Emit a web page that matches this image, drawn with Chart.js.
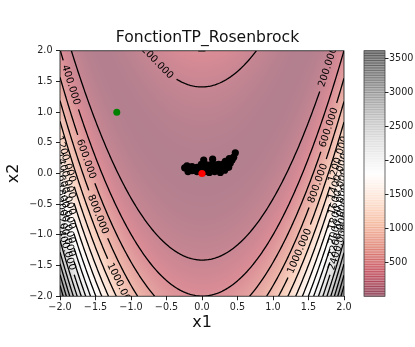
<!DOCTYPE html>
<html>
<head>
<meta charset="utf-8">
<title>FonctionTP_Rosenbrock</title>
<script src="https://cdn.jsdelivr.net/npm/chart.js@4.4.1/dist/chart.umd.min.js"></script>
<style>
  html, body { margin: 0; padding: 0; background: #fff; }
</style>
</head>
<body>
<canvas id="chart" width="415" height="347"></canvas>
<script>
// Fonction de Rosenbrock : fond coloré, isolignes annotées et essaim de points

const fontFamily = 'DejaVu Sans';

const axisMin = -2;
const axisMax = 2;
const axisStep = 0.5;
const contourLevels = [200, 400, 600, 800, 1000, 1200, 1400, 1600, 1800, 2000,
                       2200, 2400, 2600, 2800, 3000, 3200, 3400, 3600];
const colorbarTicks = [500, 1000, 1500, 2000, 2500, 3000, 3500];
const colorMin = 0;
const colorMax = 3609;
// palette RdGy (rouge -> blanc -> gris)
const rdgy = ['#67001f', '#b2182b', '#d6604d', '#f4a582', '#fddbc7', '#ffffff',
              '#e0e0e0', '#bababa', '#878787', '#4d4d4d', '#1a1a1a'];
const fillAlpha = 0.5;

// point de départ (vert) et meilleur point (rouge)
const startX = [-1.2];
const startY = [1.0];
const bestX = [0.0];
const bestY = [0.0];

// essaim final (noir)
const swarmX = [-0.244, -0.211, -0.178, -0.141, -0.103, -0.070, -0.038, 0.000, 0.038, 0.070,
                0.103, 0.141, 0.178, 0.211, 0.244, 0.282, 0.319, 0.352, 0.376, 0.399,
                0.423, 0.024, 0.150, 0.469, -0.141, 0.047, 0.117, 0.235, 0.305, 0.446,
                -0.197, -0.009, 0.188, 0.329, -0.070, 0.094, 0.258, 0.385];
const swarmY = [0.092, 0.125, 0.064, 0.111, 0.054, 0.101, 0.045, 0.078, 0.031, 0.092,
                0.017, 0.064, 0.031, 0.101, 0.045, 0.092, 0.054, 0.139, 0.101, 0.172,
                0.219, 0.219, 0.233, 0.337, 0.045, 0.148, 0.139, 0.148, 0.158, 0.266,
                0.031, 0.148, 0.139, 0.196, 0.031, 0.078, 0.017, 0.243];

function rosenbrock(x, y) {
    return (1 - x) ** 2 + 100 * (y - x * x) ** 2;
}

const rdgyRgb = rdgy.map(h => [1, 3, 5].map(k => parseInt(h.slice(k, k + 2), 16)));

function cmap(t) {
    t = Math.min(1, Math.max(0, t));
    const p = t * (rdgyRgb.length - 1);
    const i = Math.min(Math.floor(p), rdgyRgb.length - 2);
    const f = p - i;
    return [0, 1, 2].map(k => rdgyRgb[i][k] + f * (rdgyRgb[i + 1][k] - rdgyRgb[i][k]));
}

// couleur avec transparence posée sur fond blanc
function onWhite(rgb, a) {
    return rgb.map(c => Math.round(255 + a * (c - 255)));
}

function tickFmt(v) {
    return Number(v).toFixed(1).replace('-', '\u2212');
}

// ===== GRILLE + MARCHING SQUARES =====
const gridN = 240;
const grid = (() => {
    const W = gridN + 1;
    const xs = [], ys = [];
    for (let i = 0; i < W; i++) {
        xs.push(axisMin + (axisMax - axisMin) * i / gridN);
        ys.push(axisMin + (axisMax - axisMin) * i / gridN);
    }
    const v = new Float64Array(W * W);
    for (let j = 0; j < W; j++)
        for (let i = 0; i < W; i++) v[j * W + i] = rosenbrock(xs[i], ys[j]);
    return { W, xs, ys, v };
})();

function contourPaths(level) {
    const { W, xs, ys, v } = grid;
    const at = (i, j) => v[j * W + i];
    const edge = (i0, j0, i1, j1) => {
        const a = at(i0, j0), b = at(i1, j1);
        const t = (level - a) / (b - a);
        return [xs[i0] + t * (xs[i1] - xs[i0]), ys[j0] + t * (ys[j1] - ys[j0])];
    };
    const segs = [];
    for (let j = 0; j < gridN; j++) {
        for (let i = 0; i < gridN; i++) {
            const a = at(i, j) >= level, b = at(i + 1, j) >= level;
            const c = at(i + 1, j + 1) >= level, d = at(i, j + 1) >= level;
            const cross = [];
            if (a !== b) cross.push(['h' + i + '_' + j, edge(i, j, i + 1, j)]);
            if (b !== c) cross.push(['v' + (i + 1) + '_' + j, edge(i + 1, j, i + 1, j + 1)]);
            if (c !== d) cross.push(['h' + i + '_' + (j + 1), edge(i, j + 1, i + 1, j + 1)]);
            if (d !== a) cross.push(['v' + i + '_' + j, edge(i, j, i, j + 1)]);
            if (cross.length === 2) segs.push(cross);
            else if (cross.length === 4) {
                segs.push([cross[0], cross[3]]);
                segs.push([cross[1], cross[2]]);
            }
        }
    }
    const byKey = new Map();
    segs.forEach((s, idx) => s.forEach(e => {
        if (!byKey.has(e[0])) byKey.set(e[0], []);
        byKey.get(e[0]).push(idx);
    }));
    const used = new Uint8Array(segs.length);
    const walk = (idx, key) => {
        const first = segs[idx][0][0] === key ? segs[idx][0] : segs[idx][1];
        const pts = [first[1]];
        while (idx !== -1 && !used[idx]) {
            used[idx] = 1;
            const s = segs[idx];
            const other = s[0][0] === key ? s[1] : s[0];
            pts.push(other[1]);
            key = other[0];
            const nb = byKey.get(key).find(k => !used[k]);
            idx = nb === undefined ? -1 : nb;
        }
        return pts.reverse();
    };
    const paths = [];
    for (const [key, list] of byKey)
        if (list.length === 1 && !used[list[0]]) paths.push(walk(list[0], key));
    for (let i = 0; i < segs.length; i++)
        if (!used[i]) paths.push(walk(i, segs[i][0][0]));
    return paths;
}

// position d'étiquette : bloc le plus droit, pas trop près des autres
function locateLabel(pts, lw, placed) {
    const n = pts.length;
    const nBlocks = lw > 1 ? Math.ceil(n / lw) : 1;
    const bs = nBlocks === 1 ? n : Math.floor(lw);
    const cands = [];
    for (let b = 0; b < nBlocks; b++) {
        const P = k => pts[(b * bs + k) % n];
        const [xf, yf] = P(0), [xl, yl] = P(bs - 1);
        const l = Math.hypot(xl - xf, yl - yf);
        let s = 0;
        for (let k = 0; k < bs; k++) {
            const [x, y] = P(k);
            s += Math.abs((yf - y) * (xl - xf) - (xf - x) * (yl - yf));
        }
        cands.push({ b, d: l > 0 ? s / l : (s > 0 ? Infinity : NaN) });
    }
    cands.sort((p, q) => (isNaN(p.d) ? 1 : isNaN(q.d) ? -1 : p.d - q.d));
    const hb = Math.floor(bs / 2);
    const thresh = (1.2 * lw) ** 2;
    for (const c of cands) {
        const idx = (c.b * bs + hb) % n;
        const [x, y] = pts[idx];
        if (!placed.some(p => (x - p[0]) ** 2 + (y - p[1]) ** 2 < thresh)) return idx;
    }
    return (cands[0].b * bs + hb) % n;
}

function pointAtArc(pts, cum, s) {
    if (s <= 0) return pts[0];
    const last = cum.length - 1;
    if (s >= cum[last]) return pts[last];
    let k = 1;
    while (cum[k] < s) k++;
    const f = (s - cum[k - 1]) / (cum[k] - cum[k - 1] || 1);
    return [pts[k - 1][0] + f * (pts[k][0] - pts[k - 1][0]),
            pts[k - 1][1] + f * (pts[k][1] - pts[k - 1][1])];
}

function strokePart(ctx, pts, cum, s0, s1) {
    if (s1 <= s0) return;
    ctx.beginPath();
    const p0 = pointAtArc(pts, cum, s0);
    ctx.moveTo(p0[0], p0[1]);
    for (let k = 0; k < pts.length; k++)
        if (cum[k] > s0 && cum[k] < s1) ctx.lineTo(pts[k][0], pts[k][1]);
    const p1 = pointAtArc(pts, cum, s1);
    ctx.lineTo(p1[0], p1[1]);
    ctx.stroke();
}

const surfacePlugin = {
    id: 'surface',
    beforeDatasetsDraw(chart) {
        const { ctx, chartArea: a, scales: { x, y } } = chart;

        // fond coloré
        const w = Math.round(a.right - a.left), h = Math.round(a.bottom - a.top);
        const off = document.createElement('canvas');
        off.width = w; off.height = h;
        const octx = off.getContext('2d');
        const img = octx.createImageData(w, h);
        for (let j = 0; j < h; j++) {
            const yv = y.getValueForPixel(a.top + j + 0.5);
            for (let i = 0; i < w; i++) {
                const xv = x.getValueForPixel(a.left + i + 0.5);
                const t = (rosenbrock(xv, yv) - colorMin) / (colorMax - colorMin);
                const c = onWhite(cmap(t), fillAlpha);
                const k = (j * w + i) * 4;
                img.data[k] = c[0]; img.data[k + 1] = c[1]; img.data[k + 2] = c[2]; img.data[k + 3] = 255;
            }
        }
        octx.putImageData(img, 0, 0);
        ctx.drawImage(off, a.left, a.top);

        // isolignes + étiquettes
        ctx.save();
        ctx.beginPath();
        ctx.rect(a.left, a.top, a.right - a.left, a.bottom - a.top);
        ctx.clip();
        ctx.font = '10px "' + fontFamily + '"';
        ctx.strokeStyle = '#000';
        ctx.lineWidth = 1.3;
        ctx.lineJoin = 'round';
        const placed = [];
        const labels = [];
        contourLevels.forEach(level => {
            const text = level.toFixed(3);
            const lw = ctx.measureText(text).width;
            contourPaths(level).forEach(path => {
                const pts = path.map(p => [x.getPixelForValue(p[0]), y.getPixelForValue(p[1])]);
                const cum = [0];
                for (let k = 1; k < pts.length; k++)
                    cum.push(cum[k - 1] + Math.hypot(pts[k][0] - pts[k - 1][0], pts[k][1] - pts[k - 1][1]));
                const xsP = pts.map(p => p[0]), ysP = pts.map(p => p[1]);
                const ptpX = Math.max(...xsP) - Math.min(...xsP);
                const ptpY = Math.max(...ysP) - Math.min(...ysP);
                const total = cum[cum.length - 1];
                if (pts.length > 10 * lw || ptpX > 1.2 * lw || ptpY > 1.2 * lw) {
                    const idx = locateLabel(pts, lw, placed);
                    const [lx, ly] = pts[idx];
                    placed.push([lx, ly]);
                    const sc = cum[idx];
                    const pa = pointAtArc(pts, cum, sc - lw / 2);
                    const pb = pointAtArc(pts, cum, sc + lw / 2);
                    let ang = Math.atan2(pb[1] - pa[1], pb[0] - pa[0]) * 180 / Math.PI;
                    ang = ((ang + 90) % 180 + 180) % 180 - 90;
                    labels.push({ text, lx, ly, ang });
                    const gap = lw / 2 + 5;
                    strokePart(ctx, pts, cum, 0, sc - gap);
                    strokePart(ctx, pts, cum, sc + gap, total);
                } else {
                    strokePart(ctx, pts, cum, 0, total);
                }
            });
        });
        ctx.fillStyle = '#000';
        ctx.textAlign = 'center';
        ctx.textBaseline = 'middle';
        labels.forEach(l => {
            ctx.save();
            ctx.translate(l.lx, l.ly);
            ctx.rotate(l.ang * Math.PI / 180);
            ctx.fillText(l.text, 0, 0);
            ctx.restore();
        });
        ctx.restore();
    },
    afterDraw(chart) {
        const { ctx, chartArea: a, scales: { cb } } = chart;
        ctx.save();
        // cadre du graphique
        ctx.strokeStyle = '#111';
        ctx.lineWidth = 0.8;
        ctx.strokeRect(a.left, a.top, a.right - a.left, a.bottom - a.top);

        // barre de couleurs
        const bx0 = a.right + 20, bx1 = a.right + 41;
        const nb = 100;
        for (let b = 0; b < nb; b++) {
            const v0 = colorMin + (colorMax - colorMin) * b / nb;
            const v1 = colorMin + (colorMax - colorMin) * (b + 1) / nb;
            const yA = cb.getPixelForValue(v1), yB = cb.getPixelForValue(v0);
            const c = cmap((b + 0.5) / nb).map(Math.round);
            ctx.fillStyle = `rgba(${c[0]},${c[1]},${c[2]},${fillAlpha})`;
            ctx.fillRect(bx0, yA - 0.5, bx1 - bx0, yB - yA + 1);
        }
        ctx.strokeStyle = '#444';
        ctx.strokeRect(bx0, cb.top, bx1 - bx0, cb.bottom - cb.top);
        ctx.strokeStyle = '#222';
        ctx.lineWidth = 1;
        colorbarTicks.forEach(v => {
            const py = Math.round(cb.getPixelForValue(v)) + 0.5;
            ctx.beginPath();
            ctx.moveTo(bx1, py);
            ctx.lineTo(bx1 + 3.5, py);
            ctx.stroke();
        });
        ctx.restore();
    }
};

const tickFont = { family: fontFamily, size: 9.6 };
const titleFont = { family: fontFamily, size: 16, lineHeight: 1 };

new Chart(document.getElementById('chart'), {
    type: 'scatter',
    data: {
        datasets: [
            {
                label: 'meilleur',
                data: bestX.map((v, i) => ({ x: v, y: bestY[i] })),
                backgroundColor: '#ff0000',
                pointRadius: 3.6,
                borderWidth: 0,
                order: 1,
                yAxisID: 'y'
            },
            {
                label: 'départ',
                data: startX.map((v, i) => ({ x: v, y: startY[i] })),
                backgroundColor: '#008000',
                pointRadius: 3.5,
                borderWidth: 0,
                order: 2,
                yAxisID: 'y'
            },
            {
                label: 'essaim',
                data: swarmX.map((v, i) => ({ x: v, y: swarmY[i] })),
                backgroundColor: '#000000',
                pointRadius: 3.6,
                borderWidth: 0,
                order: 3,
                yAxisID: 'y'
            }
        ]
    },
    options: {
        responsive: false,
        animation: false,
        events: [],
        layout: { padding: 0 },
        plugins: {
            legend: { display: false },
            tooltip: { enabled: false },
            title: {
                display: true,
                text: 'FonctionTP_Rosenbrock',
                color: '#111',
                font: { family: fontFamily, size: 15.6, weight: 'normal', lineHeight: 1.2 },
                padding: { top: 6.5, bottom: 3.8 }
            }
        },
        scales: {
            x: {
                type: 'linear',
                min: axisMin,
                max: axisMax,
                ticks: { stepSize: axisStep, callback: tickFmt, color: '#222', font: tickFont, padding: 1, maxRotation: 0, autoSkip: false },
                grid: { drawOnChartArea: false, drawTicks: true, tickLength: 4, tickColor: '#222' },
                border: { display: false },
                title: { display: true, text: 'x1', color: '#111', font: titleFont, padding: 0 },
                afterFit: s => { s.height = 35; }
            },
            y: {
                type: 'linear',
                min: axisMin,
                max: axisMax,
                ticks: { stepSize: axisStep, callback: tickFmt, color: '#222', font: tickFont, padding: 3.5, autoSkip: false },
                grid: { drawOnChartArea: false, drawTicks: true, tickLength: 4, tickColor: '#222' },
                border: { display: false },
                title: { display: true, text: 'x2', color: '#111', font: titleFont, padding: { top: 6, bottom: 0 } },
                afterFit: s => { s.width = 60; }
            },
            cb: {
                type: 'linear',
                position: 'right',
                min: colorMin,
                max: colorMax,
                afterBuildTicks: s => { s.ticks = colorbarTicks.map(v => ({ value: v })); },
                ticks: { color: '#222', font: tickFont, padding: 45, autoSkip: false, callback: v => String(v) },
                grid: { display: false, drawTicks: false },
                border: { display: false },
                afterFit: s => { s.width = 71; }
            }
        }
    },
    plugins: [surfacePlugin]
});
</script>
</body>
</html>
